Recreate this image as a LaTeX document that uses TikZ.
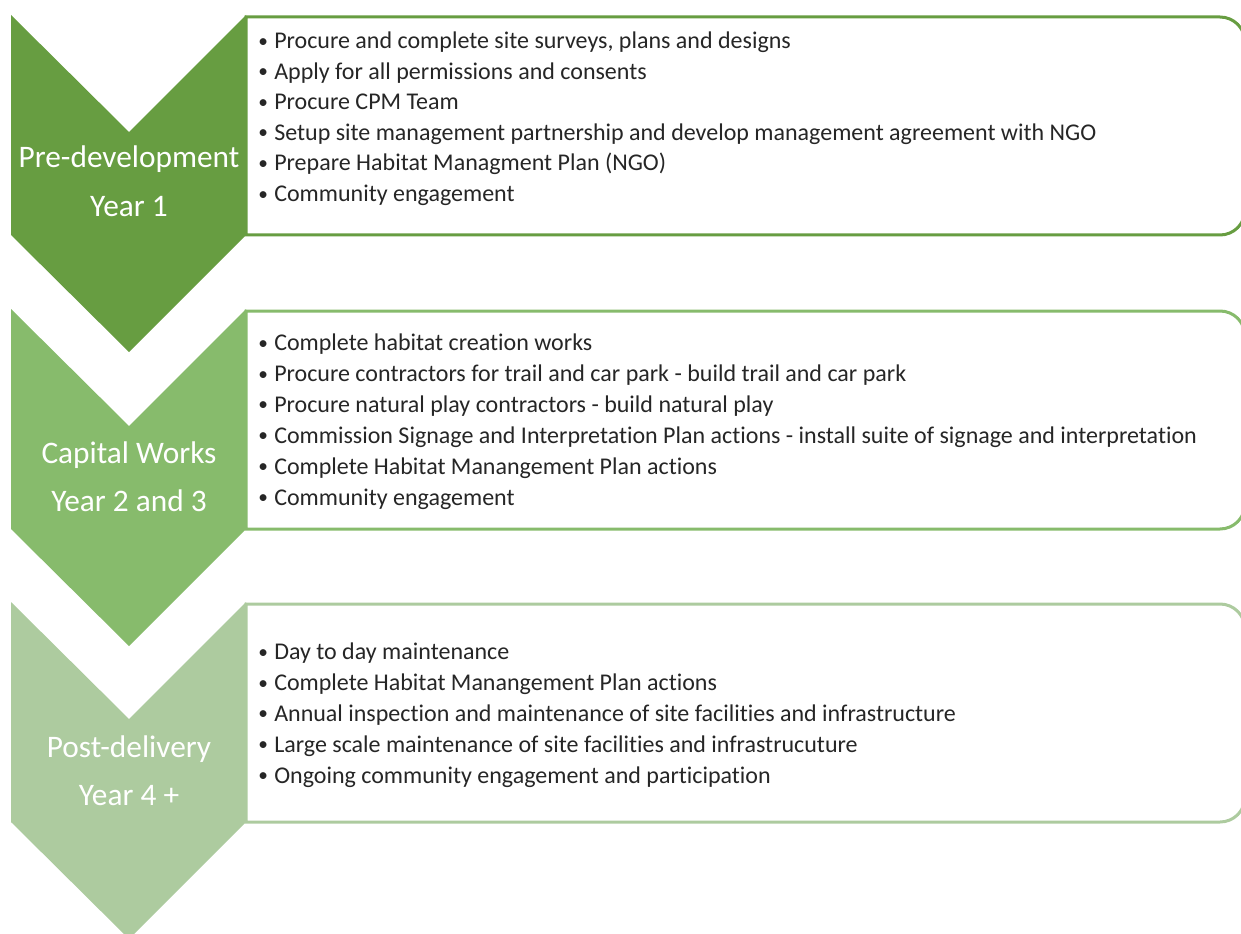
\documentclass[tikz,border=0pt]{standalone}
\usepackage{fontspec}
\setmainfont{Carlito}[Ligatures=NoCommon]

\definecolor{stageone}{RGB}{103,157,65}
\definecolor{stagetwo}{RGB}{135,187,108}
\definecolor{stagethree}{RGB}{173,203,159}

\newcommand{\taskdot}{\makebox[12pt][l]{\fontsize{14.5}{14.5}\selectfont\raisebox{1pt}{•}}}

\tikzset{
  stagelabel/.style={text=white, font=\fontsize{23.5}{28}\selectfont, inner sep=0pt, anchor=base},
  taskline/.style={text=black!85, font=\fontsize{18}{22}\selectfont, inner sep=0pt, anchor=base west},
  taskbox/.style={line width=2.25pt, fill=white},
}

\begin{document}
\begin{tikzpicture}[x=0.75pt,y=-0.75pt]
\useasboundingbox (0,0) rectangle (1241,934);

% boxes
\draw[taskbox, draw=stageone] (246,17) -- (1220,17) arc[start angle=-90,end angle=0,radius=25] -- (1245,210) arc[start angle=0,end angle=90,radius=25] -- (246,235) -- cycle;
\draw[taskbox, draw=stagetwo] (246,311) -- (1220,311) arc[start angle=-90,end angle=0,radius=25] -- (1245,504) arc[start angle=0,end angle=90,radius=25] -- (246,529) -- cycle;
\draw[taskbox, draw=stagethree] (246,604) -- (1220,604) arc[start angle=-90,end angle=0,radius=25] -- (1245,797) arc[start angle=0,end angle=90,radius=25] -- (246,822) -- cycle;

% chevrons
\fill[stageone] (11,15) -- (129,132) -- (246,15) -- (246,235) -- (129,352) -- (11,235) -- cycle;
\fill[stagetwo] (11,309) -- (129,426) -- (246,309) -- (246,529) -- (129,646) -- (11,529) -- cycle;
\fill[stagethree] (11,602) -- (129,719) -- (246,602) -- (246,822) -- (129,939) -- (11,822) -- cycle;

\node[stagelabel] (pre) at (129,168) {Pre-development};
\node[stagelabel] (preyear) at (129,217) {Year 1};
\node[stagelabel] (capital) at (129,463) {Capital Works};
\node[stagelabel] (capitalyear) at (129,511) {Year 2 and 3};
\node[stagelabel] (post) at (129,757) {Post-delivery};
\node[stagelabel] (postyear) at (129,805) {Year 4 +};

% tasks
\foreach \t [count=\i from 0] in {{Procure and complete site surveys, plans and designs},
    {Apply for all permissions and consents},
    {Procure CPM Team},
    {Setup site management partnership and develop management agreement with NGO},
    {Prepare Habitat Managment Plan (NGO)},
    {Community engagement}}
  \node[taskline] (pre\i) at (258,48.5+30.6*\i) {\taskdot\t};

\foreach \t [count=\i from 0] in {{Complete habitat creation works},
    {Procure contractors for trail and car park - build trail and car park},
    {Procure natural play contractors - build natural play},
    {Commission Signage and Interpretation Plan actions - install suite of signage and interpretation},
    {Complete Habitat Manangement Plan actions},
    {Community engagement}}
  \node[taskline] (cap\i) at (258,350.5+30.9*\i) {\taskdot\t};

\foreach \t [count=\i from 0] in {{Day to day maintenance},
    {Complete Habitat Manangement Plan actions},
    {Annual inspection and maintenance of site facilities and infrastructure},
    {Large scale maintenance of site facilities and infrastrucuture},
    {Ongoing community engagement and participation}}
  \node[taskline] (post\i) at (258,659.5+30.9*\i) {\taskdot\t};

\end{tikzpicture}
\end{document}
